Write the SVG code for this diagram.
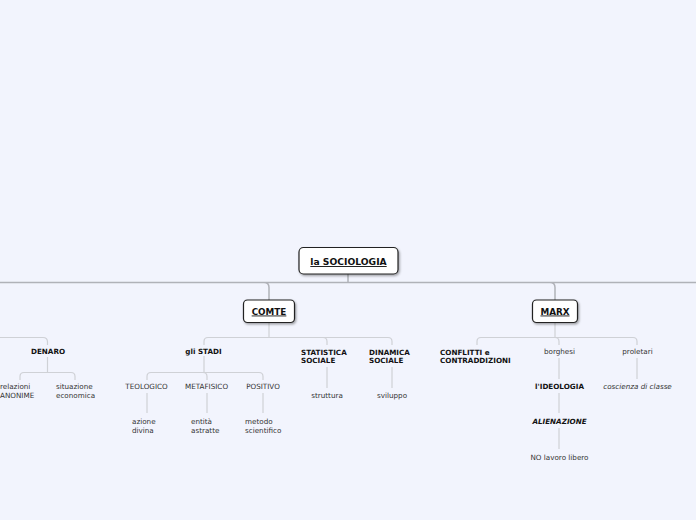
<svg xmlns="http://www.w3.org/2000/svg" width="696" height="520" viewBox="0 0 696 520">
<defs>
<filter id="sh" x="-20%" y="-30%" width="140%" height="170%">
<feDropShadow dx="1.2" dy="1.5" stdDeviation="1" flood-color="#000" flood-opacity="0.35"/>
</filter>
<style>
text{font-family:"DejaVu Sans",Verdana,sans-serif;fill:#222}
.b{font-weight:bold;font-size:7.2px;fill:#111}
.r{font-size:7.2px;fill:#333}
.i{font-style:italic}
.m{text-anchor:middle}
.box{fill:#fff;stroke:#222;stroke-width:1.2}
.top{font-weight:bold;text-decoration:underline;fill:#111}
.main{fill:none;stroke:#b0b2b8;stroke-width:1.5}
.sub{fill:none;stroke:#cfd1d6;stroke-width:1.2}
</style>
</defs>
<rect width="696" height="520" fill="#f2f4fd"/>
<g id="connectors">
<path class="main" d="M0,282.5 H696 M348,274 V282.5 M264,282.5 Q269,282.5 269,287.5 V300 M550,282.5 Q555,282.5 555,287.5 V300"/>
<path class="sub" d="M0,337.5 H43 Q47.5,337.5 47.5,342 V345"/>
<path class="sub" d="M47.5,357 V372.5 M24,372.5 H71 M24,372.5 Q20,372.5 20,376.5 V380 M71,372.5 Q75,372.5 75,376.5 V380"/>
<path class="sub" d="M269,323 V337.5 M208,337.5 H388 M208,337.5 Q204,337.5 204,341.5 V345 M388,337.5 Q392,337.5 392,341.5 V345 M323,337.5 Q327,337.5 327,341.5 V345"/>
<path class="sub" d="M204,356 V372.5 M151,372.5 H259 M151,372.5 Q147,372.5 147,376.5 V380 M259,372.5 Q263,372.5 263,376.5 V380 M203,372.5 Q207,372.5 207,376.5 V380"/>
<path class="sub" d="M147,393 V413 M207,393 V413 M263,393 V413"/>
<path class="sub" d="M327,367 V388 M392,367 V388"/>
<path class="sub" d="M555,323 V337.5 M481,337.5 H633 M481,337.5 Q477,337.5 477,341.5 V345 M633,337.5 Q637,337.5 637,341.5 V345 M555,337.5 Q559,337.5 559,341.5 V345"/>
<path class="sub" d="M559,358 V379 M637,358 V379 M559,393 V413 M559,428 V449"/>
</g>
<g id="root">
<rect class="box" x="299" y="247.5" width="99" height="26.5" rx="4.5" filter="url(#sh)"/>
<text class="top m" x="348.5" y="265" font-size="9.2">la SOCIOLOGIA</text>
</g>
<g id="comte">
<rect class="box" x="243.5" y="300" width="51" height="22.5" rx="4" filter="url(#sh)"/>
<text class="top m" x="269" y="314.5" font-size="8.8">COMTE</text>
</g>
<g id="marx">
<rect class="box" x="532.5" y="300" width="45" height="22.5" rx="4" filter="url(#sh)"/>
<text class="top m" x="555" y="314.5" font-size="8.8">MARX</text>
</g>
<g id="denaro"><text class="b m" x="48" y="353.5">DENARO</text></g>
<g id="relazioni"><text class="r" x="0" y="388.5">relazioni</text><text class="r" x="0" y="397.5">ANONIME</text></g>
<g id="situazione"><text class="r" x="56" y="388.5">situazione</text><text class="r" x="56" y="397.5">economica</text></g>
<g id="stadi"><text class="b m" x="203.5" y="353.5">gli STADI</text></g>
<g id="statistica"><text class="b" x="301" y="354.5">STATISTICA</text><text class="b" x="301" y="362.5">SOCIALE</text></g>
<g id="dinamica"><text class="b" x="369" y="354.5">DINAMICA</text><text class="b" x="369" y="362.5">SOCIALE</text></g>
<g id="teologico"><text class="r m" x="146.5" y="388.5">TEOLOGICO</text></g>
<g id="metafisico"><text class="r m" x="206.5" y="388.5">METAFISICO</text></g>
<g id="positivo"><text class="r m" x="263" y="388.5">POSITIVO</text></g>
<g id="azione"><text class="r" x="132" y="423.5">azione</text><text class="r" x="132" y="432.5">divina</text></g>
<g id="entita"><text class="r" x="191" y="423.5">entità</text><text class="r" x="191" y="432.5">astratte</text></g>
<g id="metodo"><text class="r" x="245" y="423.5">metodo</text><text class="r" x="245" y="432.5">scientifico</text></g>
<g id="struttura"><text class="r m" x="327" y="397.5">struttura</text></g>
<g id="sviluppo"><text class="r m" x="392" y="397.5">sviluppo</text></g>
<g id="conflitti"><text class="b" x="440" y="354.5">CONFLITTI e</text><text class="b" x="440" y="362.5">CONTRADDIZIONI</text></g>
<g id="borghesi"><text class="r m" x="559.5" y="354">borghesi</text></g>
<g id="proletari"><text class="r m" x="637.5" y="354">proletari</text></g>
<g id="ideologia"><text class="b m" x="559.5" y="388.5">l'IDEOLOGIA</text></g>
<g id="coscienza"><text class="r i m" x="637.5" y="388.5">coscienza di classe</text></g>
<g id="alienazione"><text class="b i m" x="559.5" y="424">ALIENAZIONE</text></g>
<g id="nolavoro"><text class="r m" x="559.5" y="459.5">NO lavoro libero</text></g>
</svg>
